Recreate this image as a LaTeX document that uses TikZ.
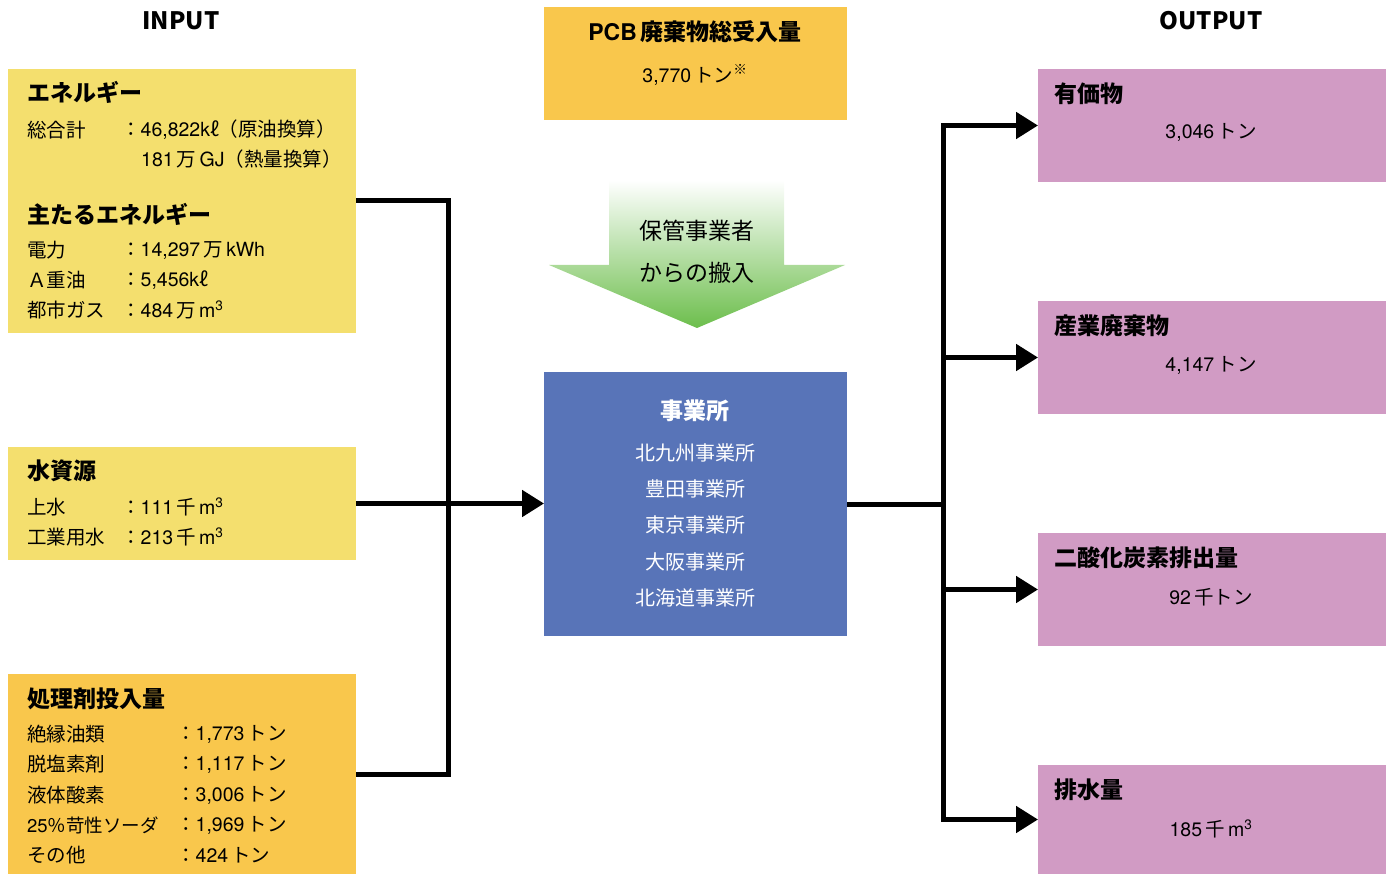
\documentclass[tikz,border=0pt]{standalone}
\usepackage{fontspec}
\setmainfont{Noto Sans CJK JP}
\newfontfamily\latf{TeX Gyre Heros}
\newfontfamily\latb{texgyreheros-bold.otf}
\newcommand{\en}[1]{{\latf #1}}
\usetikzlibrary{arrows.meta}
\definecolor{ylw}{HTML}{F4DF6E}
\definecolor{org}{HTML}{F9C74C}
\definecolor{blu}{HTML}{5874B8}
\definecolor{pnk}{HTML}{D19BC4}
\definecolor{grn}{HTML}{6CBE4C}
\begin{document}
\begin{tikzpicture}[x=1pt,y=-1pt,
  box/.style={draw=none, anchor=north west, inner sep=0pt, outer sep=0pt},
  hd/.style={anchor=west, inner sep=0pt, font=\fontsize{23}{28}\selectfont\bfseries},
  tx/.style={anchor=west, inner sep=0pt, font=\fontsize{19.5}{24}\selectfont},
  ctx/.style={anchor=center, inner sep=0pt, font=\fontsize{19.5}{24}\selectfont},
  chd/.style={anchor=center, inner sep=0pt, font=\fontsize{23}{28}\selectfont\bfseries},
  ttl/.style={anchor=center, inner sep=0pt, font=\fontsize{24}{28}\selectfont\bfseries},
  conn/.style={line width=5pt, black},
  tip/.style={-{Triangle[length=22pt,width=26pt]}}
]
\useasboundingbox (0,0) rectangle (1391,874);

% titles
\node[ttl] (tin) at (181,21) {INPUT};
\node[ttl] (tout) at (1211,21) {OUTPUT};

% input boxes
\node[box, fill=ylw, minimum width=348, minimum height=264] (en) at (8,69) {};
\node[box, fill=ylw, minimum width=348, minimum height=113] (wa) at (8,447) {};
\node[box, fill=org, minimum width=348, minimum height=200] (pa) at (8,674) {};

\node[hd] (en1) at (27,92) {エネルギー};
\node[tx] (en2) at (27,130) {総合計};
\node[tx] (en2v) at (121,130) {：\en{46,822k}ℓ（原油換算）};
\node[tx] (en3v) at (141,159) {\en{181}\,万\,\en{GJ}（熱量換算）};
\node[hd] (en4) at (27,214) {主たるエネルギー};
\node[tx] (en5) at (27,250) {電力};
\node[tx] (en5v) at (121,250) {：\en{14,297}\,万\,\en{kWh}};
\node[tx] (en6) at (27,280) {Ａ重油};
\node[tx] (en6v) at (121,280) {：\en{5,456k}ℓ};
\node[tx] (en7) at (27,310) {都市ガス};
\node[tx] (en7v) at (121,310) {：\en{484}\,万\,\en{m\textsuperscript{3}}};

\node[hd] (wa1) at (27,471) {水資源};
\node[tx] (wa2) at (27,507) {上水};
\node[tx] (wa2v) at (121,507) {：\en{111}\,千\,\en{m\textsuperscript{3}}};
\node[tx] (wa3) at (27,537) {工業用水};
\node[tx] (wa3v) at (121,537) {：\en{213}\,千\,\en{m\textsuperscript{3}}};

\node[hd] (pa1) at (27,699) {処理剤投入量};
\node[tx] (pa2) at (27,734) {絶縁油類};
\node[tx] (pa2v) at (176,734) {：\en{1,773}\,トン};
\node[tx] (pa3) at (27,764) {脱塩素剤};
\node[tx] (pa3v) at (176,764) {：\en{1,117}\,トン};
\node[tx] (pa4) at (27,795) {液体酸素};
\node[tx] (pa4v) at (176,795) {：\en{3,006}\,トン};
\node[tx, font=\fontsize{18.5}{22}\selectfont] (pa5) at (27,825) {\en{25}％苛性ソーダ};
\node[tx] (pa5v) at (176,825) {：\en{1,969}\,トン};
\node[tx] (pa6) at (27,855) {その他};
\node[tx] (pa6v) at (176,855) {：\en{424}\,トン};

% top box
\node[box, fill=org, minimum width=303, minimum height=113] (pcb) at (544,7) {};
\node[chd] (pcb1) at (695,32) {{\latb PCB}\,廃棄物総受入量};
\node[ctx] (pcb2) at (695,75) {\en{3,770}\,トン\textsuperscript{※}};

% gradient arrow
\shade[top color=white, bottom color=grn]
  (609,180) -- (784,180) -- (784,265) -- (845,265) -- (697,328)
  -- (549,265) -- (609,265) -- cycle;
\node[ctx, font=\fontsize{23}{28}\selectfont] (ar1) at (697,231) {保管事業者};
\node[ctx, font=\fontsize{23}{28}\selectfont] (ar2) at (697,273) {からの搬入};

% centre box
\node[box, fill=blu, minimum width=303, minimum height=264] (site) at (544,372) {};
\node[chd, text=white] (s0) at (695,411) {事業所};
\node[ctx, text=white, font=\fontsize{20}{24}\selectfont] (s1) at (695,453) {北九州事業所};
\node[ctx, text=white, font=\fontsize{20}{24}\selectfont] (s2) at (695,489) {豊田事業所};
\node[ctx, text=white, font=\fontsize{20}{24}\selectfont] (s3) at (695,525) {東京事業所};
\node[ctx, text=white, font=\fontsize{20}{24}\selectfont] (s4) at (695,562) {大阪事業所};
\node[ctx, text=white, font=\fontsize{20}{24}\selectfont] (s5) at (695,598) {北海道事業所};

% output boxes
\node[box, fill=pnk, minimum width=348, minimum height=113] (o1) at (1038,69) {};
\node[box, fill=pnk, minimum width=348, minimum height=113] (o2) at (1038,301) {};
\node[box, fill=pnk, minimum width=348, minimum height=113] (o3) at (1038,533) {};
\node[box, fill=pnk, minimum width=348, minimum height=109] (o4) at (1038,765) {};

\node[hd] (o1h) at (1054,94) {有価物};
\node[ctx] (o1v) at (1211,132) {\en{3,046}\,トン};
\node[hd] (o2h) at (1054,326) {産業廃棄物};
\node[ctx] (o2v) at (1211,365) {\en{4,147}\,トン};
\node[hd] (o3h) at (1054,558) {二酸化炭素排出量};
\node[ctx] (o3v) at (1211,597) {\en{92}\,千トン};
\node[hd] (o4h) at (1054,790) {排水量};
\node[ctx] (o4v) at (1211,829) {\en{185}\,千\,\en{m\textsuperscript{3}}};

% connectors
\coordinate (jl) at (448,504);
\coordinate (jr) at (943,504);
\draw[conn] (en.east) -| (jl) |- (pa.east);
\draw[conn, tip] (wa.east) -- (wa.east -| site.west);
\draw[conn] (site.east) -- (jr);
\draw[conn, tip] (jr) |- (o1.west);
\draw[conn, tip] (jr) |- (o2.west);
\draw[conn, tip] (jr) |- (o3.west);
\draw[conn, tip] (jr) |- (o4.west);
\end{tikzpicture}
\end{document}
